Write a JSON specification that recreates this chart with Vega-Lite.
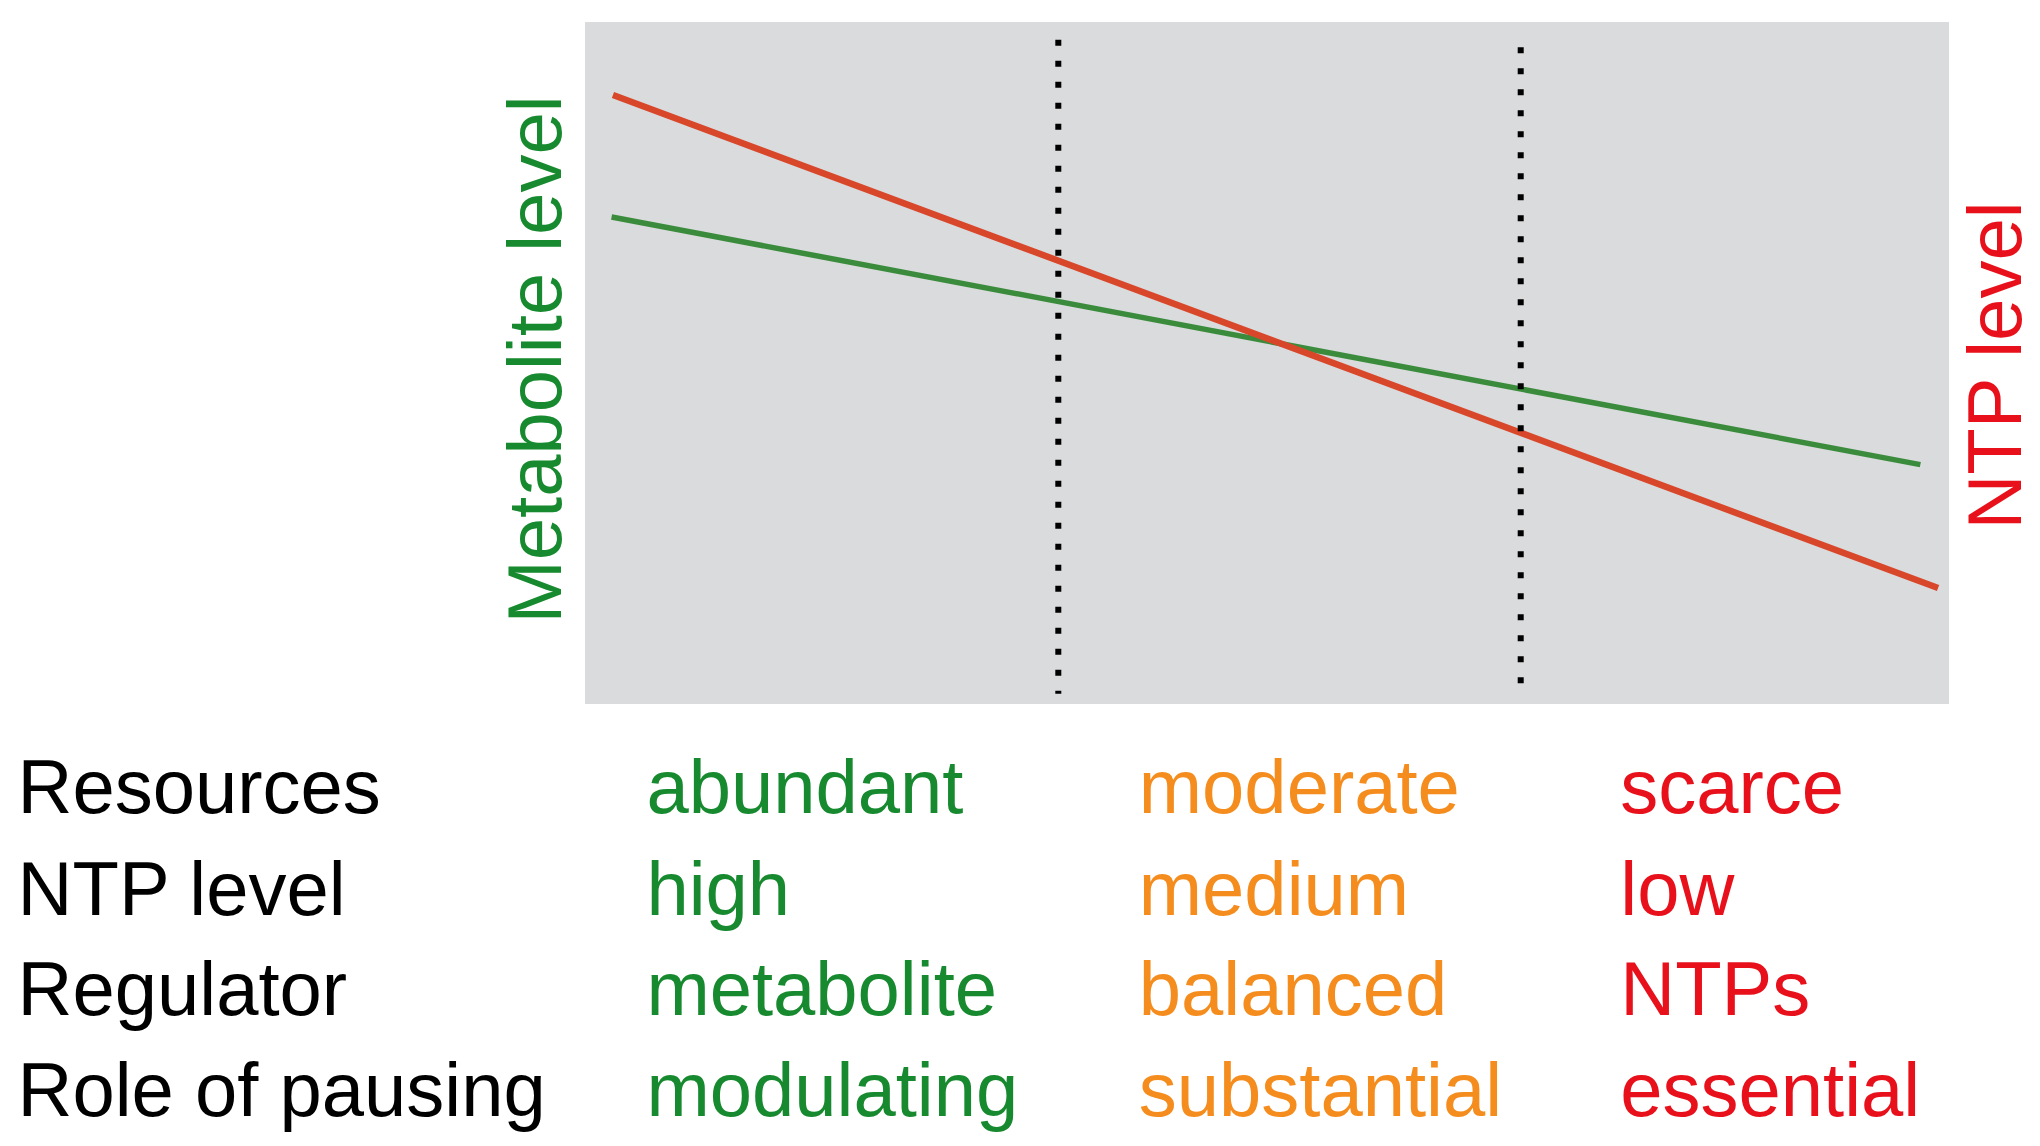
{
  "$schema": "https://vega.github.io/schema/vega-lite/v6.json",
  "width": 1364,
  "height": 682,
  "autosize": {"type": "none"},
  "padding": {"left": 585, "top": 22, "right": 91, "bottom": 442},
  "background": "white",
  "config": {
    "view": {"fill": "#dadbdd", "stroke": null},
    "font": "Liberation Sans"
  },
  "datasets": {
    "metabolite": [
      {"resource": 1.95, "level": 71.4},
      {"resource": 97.9, "level": 35.1}
    ],
    "ntp": [
      {"resource": 2.05, "level": 89.3},
      {"resource": 99.2, "level": 17.0}
    ],
    "thresholds": [
      {"resource": 34.7, "top": 97.4, "bottom": 1.5},
      {"resource": 68.6, "top": 96.3, "bottom": 1.5}
    ],
    "table": [
      {"regime": "header", "text": "Resources", "x": -41.6, "y": -16.0},
      {"regime": "header", "text": "NTP level", "x": -41.6, "y": -31.0},
      {"regime": "header", "text": "Regulator", "x": -41.6, "y": -45.6},
      {"regime": "header", "text": "Role of pausing", "x": -41.6, "y": -60.4},
      {"regime": "abundant", "text": "abundant", "x": 4.5, "y": -16.0},
      {"regime": "abundant", "text": "high", "x": 4.5, "y": -31.0},
      {"regime": "abundant", "text": "metabolite", "x": 4.5, "y": -45.6},
      {"regime": "abundant", "text": "modulating", "x": 4.5, "y": -60.4},
      {"regime": "moderate", "text": "moderate", "x": 40.6, "y": -16.0},
      {"regime": "moderate", "text": "medium", "x": 40.6, "y": -31.0},
      {"regime": "moderate", "text": "balanced", "x": 40.6, "y": -45.6},
      {"regime": "moderate", "text": "substantial", "x": 40.6, "y": -60.4},
      {"regime": "scarce", "text": "scarce", "x": 75.9, "y": -16.0},
      {"regime": "scarce", "text": "low", "x": 75.9, "y": -31.0},
      {"regime": "scarce", "text": "NTPs", "x": 75.9, "y": -45.6},
      {"regime": "scarce", "text": "essential", "x": 75.9, "y": -60.4}
    ]
  },
  "layer": [
    {
      "data": {"name": "metabolite"},
      "mark": {"type": "line", "color": "#3a8c3c", "strokeWidth": 5.5, "strokeCap": "butt"},
      "encoding": {
        "x": {"field": "resource", "type": "quantitative", "scale": {"domain": [0, 100]}, "axis": null},
        "y": {
          "field": "level", "type": "quantitative", "scale": {"domain": [0, 100]},
          "axis": {
            "orient": "left", "title": "Metabolite level", "labels": false, "ticks": false, "domain": false, "grid": false,
            "titleColor": "#17892f", "titleFontSize": 76, "titleFont": "Liberation Sans", "titleFontWeight": "normal",
            "titleAngle": 270, "titleAlign": "center", "titleBaseline": "alphabetic", "titleX": -25, "titleY": 337
          }
        }
      }
    },
    {
      "data": {"name": "ntp"},
      "mark": {"type": "line", "color": "#d9472b", "strokeWidth": 6.5, "strokeCap": "butt"},
      "encoding": {
        "x": {"field": "resource", "type": "quantitative", "scale": {"domain": [0, 100]}, "axis": null},
        "y": {
          "field": "level", "type": "quantitative", "scale": {"domain": [0, 100]},
          "axis": {
            "orient": "right", "title": "NTP level", "labels": false, "ticks": false, "domain": false, "grid": false,
            "titleColor": "#e8111b", "titleFontSize": 76, "titleFont": "Liberation Sans", "titleFontWeight": "normal",
            "titleAngle": 270, "titleAlign": "center", "titleBaseline": "alphabetic", "titleX": 71, "titleY": 343
          }
        }
      }
    },
    {
      "data": {"name": "thresholds"},
      "mark": {"type": "rule", "color": "#000000", "strokeWidth": 6, "strokeDash": [6, 15], "strokeCap": "butt"},
      "encoding": {
        "x": {"field": "resource", "type": "quantitative", "scale": {"domain": [0, 100]}, "axis": null},
        "y": {"field": "top", "type": "quantitative", "scale": {"domain": [0, 100]}, "axis": null},
        "y2": {"field": "bottom"}
      }
    },
    {
      "data": {"name": "table"},
      "mark": {"type": "text", "align": "left", "baseline": "alphabetic", "fontSize": 76, "font": "Liberation Sans"},
      "encoding": {
        "x": {"field": "x", "type": "quantitative", "scale": {"domain": [0, 100]}, "axis": null},
        "y": {"field": "y", "type": "quantitative", "scale": {"domain": [0, 100]}, "axis": null},
        "text": {"field": "text", "type": "nominal"},
        "color": {
          "field": "regime", "type": "nominal", "legend": null,
          "scale": {"domain": ["header", "abundant", "moderate", "scarce"], "range": ["#000000", "#17892f", "#f58c1e", "#e8111b"]}
        }
      }
    }
  ],
  "resolve": {"scale": {"y": "independent"}}
}
